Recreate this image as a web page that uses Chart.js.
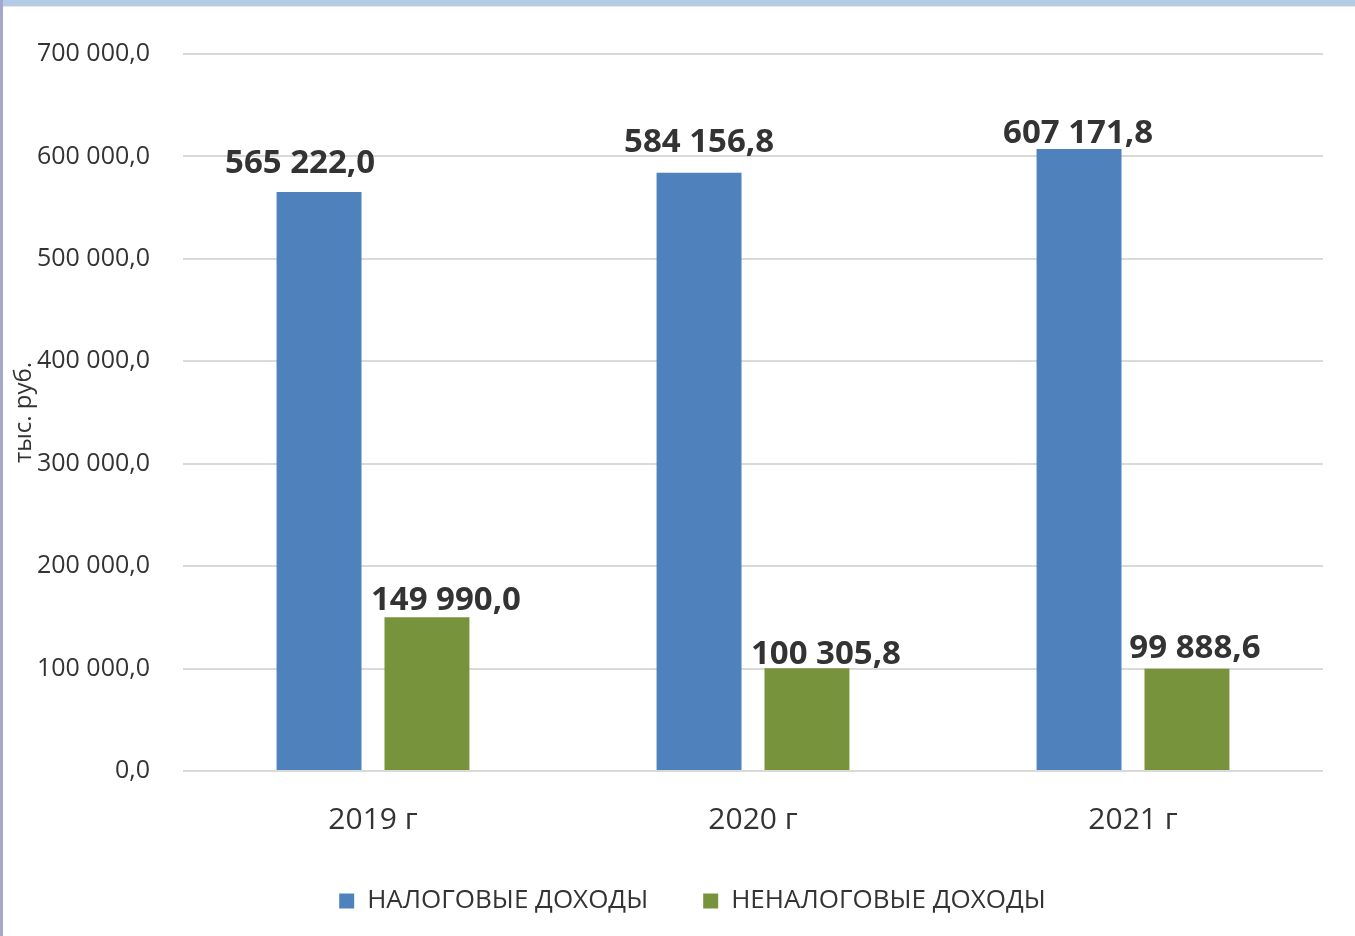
<!DOCTYPE html>
<html>
<head>
<meta charset="utf-8">
<script src="https://cdn.jsdelivr.net/npm/chart.js@4"></script>
<style>
  html, body { margin: 0; padding: 0; background: #fff; }
  #wrap { position: relative; width: 1355px; height: 936px; overflow: hidden; }
  #topEdge { position: absolute; left: 0; top: 0; width: 1355px; height: 6px; background: #b4cbe5; border-bottom: 1px solid #e6e6e6; }
  #leftEdge { position: absolute; left: 0; top: 0; width: 3px; height: 936px; background: #a4a6cb; }
</style>
</head>
<body>
<div id="wrap">
  <canvas id="myChart" width="1355" height="936"></canvas>
  <div id="topEdge"></div>
  <div id="leftEdge"></div>
</div>
<script>
const years = ["2019 г", "2020 г", "2021 г"];
const taxIncome = [565222.0, 584156.8, 607171.8];
const nonTaxIncome = [149990.0, 100305.8, 99888.6];
const seriesNames = ["НАЛОГОВЫЕ ДОХОДЫ", "НЕНАЛОГОВЫЕ ДОХОДЫ"];
const yTicks = [0, 100000, 200000, 300000, 400000, 500000, 600000, 700000];

// label nudges [dx, gap above bar], per dataset / per bar
const labelOffsets = [
  [[-19, 19], [0, 21], [-1, 6]],
  [[19, 7], [19, 4], [8, 11]],
];

const textColor = "#333333";

function fmt(v) {
  const parts = v.toFixed(1).split(".");
  const intPart = parts[0].replace(/\B(?=(\d{3})+(?!\d))/g, " ");
  return intPart + "," + parts[1];
}

const valueLabels = {
  id: "valueLabels",
  afterDatasetsDraw(chart) {
    const ctx = chart.ctx;
    ctx.save();
    ctx.font = "bold 33px 'Open Sans'";
    ctx.fillStyle = textColor;
    ctx.textAlign = "center";
    ctx.textBaseline = "alphabetic";
    chart.data.datasets.forEach((ds, di) => {
      const meta = chart.getDatasetMeta(di);
      meta.data.forEach((bar, i) => {
        const off = labelOffsets[di][i];
        ctx.fillText(fmt(ds.data[i]), bar.x + off[0], bar.y - off[1]);
      });
    });
    ctx.restore();
  },
};

const axisTitle = {
  id: "axisTitle",
  afterDraw(chart) {
    const ctx = chart.ctx;
    const area = chart.chartArea;
    ctx.save();
    ctx.translate(area.left - 159, (area.top + area.bottom) / 2);
    ctx.rotate(-Math.PI / 2);
    ctx.font = "24px 'Open Sans'";
    ctx.fillStyle = textColor;
    ctx.textAlign = "center";
    ctx.textBaseline = "middle";
    ctx.fillText("тыс. руб.", 0, 0);
    ctx.restore();
  },
};

// x labels sit partly over the legend box, so let them draw past the scale;
// legend is also a bit right of the page centre in the original
const layoutTweaks = {
  id: "layoutTweaks",
  afterLayout(chart) {
    chart.scales.x.bottom = chart.scales.x.top + 80;
    chart.legend.left += 31;
    chart.legend.right += 31;
  },
};

const ctx = document.getElementById("myChart").getContext("2d");
const myChart = new Chart(ctx, {
  type: "bar",
  data: {
    labels: years,
    datasets: [{
      label: seriesNames[0],
      data: taxIncome,
      backgroundColor: "#4f81bd",
      categoryPercentage: 0.568,
      barPercentage: 0.787,
    }, {
      label: seriesNames[1],
      data: nonTaxIncome,
      backgroundColor: "#77933c",
      categoryPercentage: 0.568,
      barPercentage: 0.787,
    }],
  },
  options: {
    responsive: false,
    animation: false,
    layout: {
      padding: {left: 0, right: 32, top: 54, bottom: 12},
    },
    plugins: {
      tooltip: {enabled: false},
      legend: {
        position: "bottom",
        labels: {
          font: {family: "'Open Sans'", size: 26},
          color: textColor,
          boxWidth: 15,
          boxHeight: 15,
          padding: 55,
        },
      },
    },
    scales: {
      x: {
        grid: {display: false},
        border: {display: false},
        ticks: {
          font: {family: "'Open Sans'", size: 30},
          color: textColor,
          padding: 23,
        },
        afterFit(scale) {
          scale.height = 62;
        },
      },
      y: {
        min: 0,
        max: 700000,
        afterBuildTicks(scale) {
          scale.ticks = yTicks.map((v) => ({value: v}));
        },
        grid: {color: "#d9d9d9", lineWidth: 2, drawTicks: false},
        border: {display: false},
        ticks: {
          font: {family: "'Open Sans'", size: 25},
          color: textColor,
          padding: 33,
          callback: (v) => fmt(v),
        },
        afterFit(scale) {
          scale.width = 183;
        },
      },
    },
  },
  plugins: [valueLabels, axisTitle, layoutTweaks],
});
</script>
</body>
</html>
